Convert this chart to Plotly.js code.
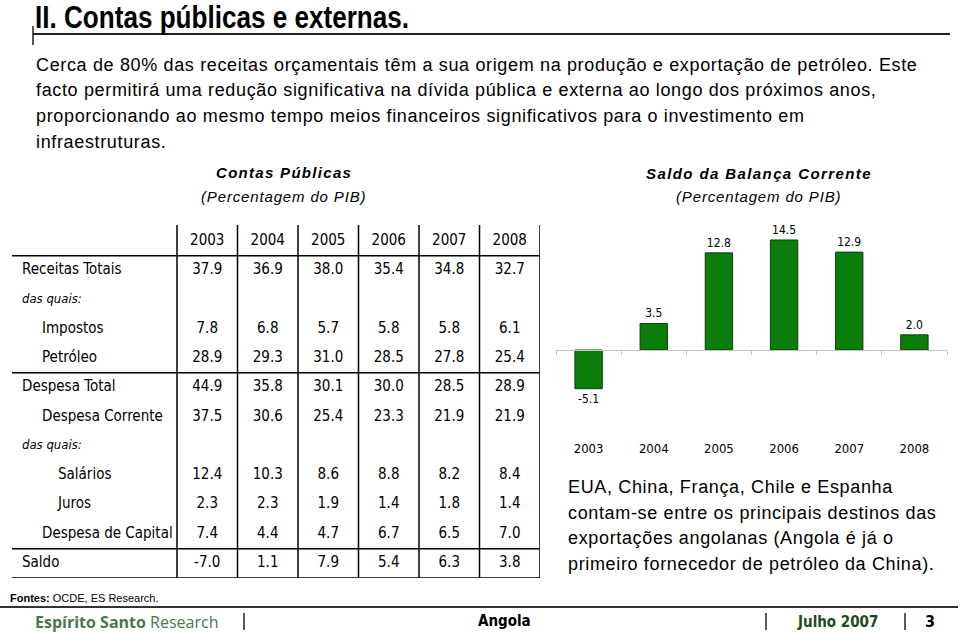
<!DOCTYPE html>
<html>
<head>
<meta charset="utf-8">
<script src="https://cdn.plot.ly/plotly-3.0.1.min.js"></script>
<style>html,body{margin:0;padding:0;background:#fff}#chart{width:960px;height:633px}</style>
</head>
<body>
<div id="chart"></div>
<script>
// ---------- DATA ----------
const years = ['2003', '2004', '2005', '2006', '2007', '2008'];
const saldoBalancaCorrente = [-5.1, 3.5, 12.8, 14.5, 12.9, 2.0];

const rowLabels = ['Receitas Totais', 'das quais:', 'Impostos', 'Petróleo', 'Despesa Total',
  'Despesa Corrente', 'das quais:', 'Salários', 'Juros', 'Despesa de Capital', 'Saldo'];
const receitasTotais = [37.9, 36.9, 38.0, 35.4, 34.8, 32.7];
const impostos = [7.8, 6.8, 5.7, 5.8, 5.8, 6.1];
const petroleo = [28.9, 29.3, 31.0, 28.5, 27.8, 25.4];
const despesaTotal = [44.9, 35.8, 30.1, 30.0, 28.5, 28.9];
const despesaCorrente = [37.5, 30.6, 25.4, 23.3, 21.9, 21.9];
const salarios = [12.4, 10.3, 8.6, 8.8, 8.2, 8.4];
const juros = [2.3, 2.3, 1.9, 1.4, 1.8, 1.4];
const despesaCapital = [7.4, 4.4, 4.7, 6.7, 6.5, 7.0];
const saldo = [-7.0, 1.1, 7.9, 5.4, 6.3, 3.8];
const rowValues = [receitasTotais, null, impostos, petroleo, despesaTotal,
  despesaCorrente, null, salarios, juros, despesaCapital, saldo];

const pageTitle = 'II. Contas públicas e externas.';
const introLines = [
  'Cerca de 80% das receitas orçamentais têm a sua origem na produção e exportação de petróleo. Este',
  'facto permitirá uma redução significativa na dívida pública e externa ao longo dos próximos anos,',
  'proporcionando ao mesmo tempo meios financeiros significativos para o investimento em',
  'infraestruturas.'
];
const sideLines = [
  'EUA, China, França, Chile e Espanha',
  'contam-se entre os principais destinos das',
  'exportações angolanas (Angola é já o',
  'primeiro fornecedor de petróleo da China).'
];

// ---------- STYLE / LAYOUT HELPERS ----------
const W = 960, H = 633;
const NARROW = '"Liberation Sans Narrow", "Arial Narrow", "DejaVu Sans Condensed", sans-serif';
const SANS = '"Liberation Sans", Arial, sans-serif';
const px = x => x / W;
const py = y => 1 - y / H;

const indentLevel = [0, 0, 1, 1, 0, 1, 0, 2, 2, 1, 0];
const indentPx = [22, 42, 58];
const italicRow = rowLabels.map(l => l === 'das quais:');

const colPx = 60.5;
const tblX1 = 5.5, tblX0 = tblX1 - 540 / colPx;
const xFromPx = p => tblX0 + p / colPx;
const rowPx = 29.3;
const tblTopPx = 225, tblBotPx = 578;
const rFromPx = p => (p - 241) / rowPx;

const traces = [];

// ---- bar chart ----
traces.push({
  type: 'bar', x: years, y: saldoBalancaCorrente, xaxis: 'x', yaxis: 'y',
  width: 0.42,
  marker: {color: '#0a7d0a', line: {color: '#143d14', width: 1}},
  text: saldoBalancaCorrente.map(v => v.toFixed(1)),
  textposition: 'outside', cliponaxis: false,
  textfont: {family: NARROW, size: 12, color: '#000'},
  hoverinfo: 'skip', showlegend: false
});
traces.push({type: 'scatter', x: [], y: [], xaxis: 'x2', yaxis: 'y', mode: 'markers',
  hoverinfo: 'skip', showlegend: false});

// ---- table ----
traces.push({
  type: 'scatter', mode: 'text', xaxis: 'x3', yaxis: 'y3',
  x: years.map((_, i) => i), y: years.map(() => 0), text: years,
  textposition: 'middle center', textfont: {family: NARROW, size: 15, color: '#000'},
  hoverinfo: 'skip', showlegend: false, cliponaxis: false
});
const vx = [], vy = [], vt = [];
rowValues.forEach((vals, r) => {
  if (!vals) return;
  vals.forEach((v, i) => { vx.push(i); vy.push(r + 1); vt.push(v.toFixed(1)); });
});
traces.push({
  type: 'scatter', mode: 'text', xaxis: 'x3', yaxis: 'y3', x: vx, y: vy, text: vt,
  textposition: 'middle center', textfont: {family: NARROW, size: 15, color: '#000'},
  hoverinfo: 'skip', showlegend: false, cliponaxis: false
});
const lx = [], ly = [], lt = [], ix = [], iy = [], it = [];
rowLabels.forEach((l, r) => {
  const x = xFromPx(indentPx[indentLevel[r]]);
  if (italicRow[r]) { ix.push(x); iy.push(r + 1); it.push(l); }
  else { lx.push(x); ly.push(r + 1); lt.push(l); }
});
traces.push({
  type: 'scatter', mode: 'text', xaxis: 'x3', yaxis: 'y3', x: lx, y: ly, text: lt,
  textposition: 'middle right', textfont: {family: NARROW, size: 15, color: '#000'},
  hoverinfo: 'skip', showlegend: false, cliponaxis: false
});
traces.push({
  type: 'scatter', mode: 'text', xaxis: 'x3', yaxis: 'y3', x: ix, y: iy, text: it,
  textposition: 'middle right', textfont: {family: NARROW, size: 13, color: '#000', style: 'italic'},
  hoverinfo: 'skip', showlegend: false, cliponaxis: false
});

// ---------- LAYOUT ----------
const barLeft = 556, barRight = 947, barTop = 215, barBot = 435;
const yRange = [-11.2, 17.79];
const yDom = [py(barBot), py(barTop)];
const zeroPos = yDom[0] + (0 - yRange[0]) / (yRange[1] - yRange[0]) * (yDom[1] - yDom[0]);

const shapes = [];
const line = (x0, y0, x1, y1, w, c) => shapes.push({type: 'line', xref: 'paper', yref: 'paper',
  x0: px(x0), y0: py(y0), x1: px(x1), y1: py(y1), line: {color: c || '#000', width: w || 1}});
line(33, 34, 950, 34, 2, '#222');
line(33, 26, 33, 45, 1.5, '#222');
line(0, 607, 958, 607, 2, '#333');
line(244, 613, 244, 630, 1.5, '#222');
line(766, 613, 766, 630, 1.5, '#222');
line(905, 613, 905, 630, 1.5, '#222');
[0.5, 4.5, 10.5, 11.5].forEach(r => shapes.push({type: 'line', xref: 'x3', yref: 'y3',
  x0: xFromPx(12), x1: tblX1, y0: r, y1: r, line: {color: '#000', width: 1.5}}));
for (let k = -0.5; k <= 5.5; k += 1) {
  shapes.push({type: 'line', xref: 'x3', yref: 'y3', x0: k, x1: k,
    y0: rFromPx(tblTopPx), y1: rFromPx(tblBotPx), line: {color: '#000', width: 1.5}});
}

const annotations = [];
const tweaks = [];   // post-render text tweaks (letter spacing / compression)
const ann = (text, x, y, o, tw) => {
  annotations.push(Object.assign({
    text, xref: 'paper', yref: 'paper', x: px(x), y: py(y), xanchor: 'left', yanchor: 'middle',
    align: 'left', showarrow: false, borderpad: 0,
    font: {family: SANS, size: 18, color: '#000'}
  }, o || {}));
  tweaks.push(tw || null);
};

ann(pageTitle, 34, 17.2, {font: {family: SANS, size: 32, color: '#000', weight: 'bold'}},
  {textLength: 374});
introLines.forEach((t, i) => ann(t, 35, 65 + i * 25.5, null, {ls: 0.65}));
sideLines.forEach((t, i) => ann(t, 567, 487 + i * 25.5, null, {ls: 0.65}));

ann('Contas Públicas', 215, 172, {font: {family: SANS, size: 15, color: '#000', weight: 'bold', style: 'italic'}}, {ls: 1.3});
ann('(Percentagem do PIB)', 200, 196, {font: {family: SANS, size: 15, color: '#000', style: 'italic'}}, {ls: 0.85});
ann('Saldo da Balança Corrente', 645, 173, {font: {family: SANS, size: 15, color: '#000', weight: 'bold', style: 'italic'}}, {ls: 1.4});
ann('(Percentagem do PIB)', 675, 196, {font: {family: SANS, size: 15, color: '#000', style: 'italic'}}, {ls: 0.85});

ann('<b>Fontes:</b> OCDE, ES Research.', 9, 598, {font: {family: SANS, size: 11, color: '#000'}});
ann('<b>Espírito Santo</b> Research', 34, 622, {font: {family: '"Open Sans", Lato, sans-serif', size: 16, color: '#4a7650'}});
ann('Angola', 505, 621, {xanchor: 'center', align: 'center', font: {family: NARROW, size: 15, color: '#000', weight: 'bold'}});
ann('Julho 2007', 837, 622, {xanchor: 'center', align: 'center', font: {family: NARROW, size: 15, color: '#1d4a1d', weight: 'bold'}});
ann('3', 930, 621, {xanchor: 'center', align: 'center', font: {family: NARROW, size: 16, color: '#000', weight: 'bold'}});

const layout = {
  width: W, height: H, margin: {l: 0, r: 0, t: 0, b: 0, pad: 0},
  paper_bgcolor: '#fff', plot_bgcolor: 'rgba(0,0,0,0)', showlegend: false,
  xaxis: {domain: [px(barLeft), px(barRight)], type: 'category', range: [-0.5, 5.5],
    showgrid: false, zeroline: false, showline: false, ticks: '', ticklabelstandoff: 4,
    tickfont: {family: NARROW, size: 13, color: '#000'}, fixedrange: true, anchor: 'y'},
  xaxis2: {overlaying: 'x', anchor: 'free', position: zeroPos, type: 'linear', range: [-0.5, 5.5],
    showgrid: false, zeroline: false, showline: true, linecolor: '#c4c4c4', linewidth: 1,
    ticks: 'outside', ticklen: 4, tickcolor: '#c4c4c4', tickwidth: 1,
    tickvals: [-0.5, 0.5, 1.5, 2.5, 3.5, 4.5, 5.5], showticklabels: false},
  yaxis: {domain: yDom, range: yRange, showgrid: false, zeroline: false, showline: false,
    showticklabels: false, ticks: '', anchor: 'x'},
  xaxis3: {domain: [0, px(540)], range: [tblX0, tblX1], visible: false, anchor: 'y3'},
  yaxis3: {domain: [py(tblBotPx), py(tblTopPx)], range: [rFromPx(tblBotPx), rFromPx(tblTopPx)],
    visible: false, anchor: 'x3'},
  shapes, annotations
};

Plotly.newPlot('chart', traces, layout, {staticPlot: true, displayModeBar: false}).then(gd => {
  gd.querySelectorAll('g.annotation').forEach(g => {
    const idx = +g.getAttribute('data-index');
    const tw = tweaks[idx];
    if (!tw) return;
    const t = g.querySelector('text.annotation-text');
    if (!t) return;
    if (tw.ls) t.style.letterSpacing = tw.ls + 'px';
    if (tw.textLength) {
      t.setAttribute('textLength', tw.textLength);
      t.setAttribute('lengthAdjust', 'spacingAndGlyphs');
    }
  });
});
</script>
</body>
</html>
